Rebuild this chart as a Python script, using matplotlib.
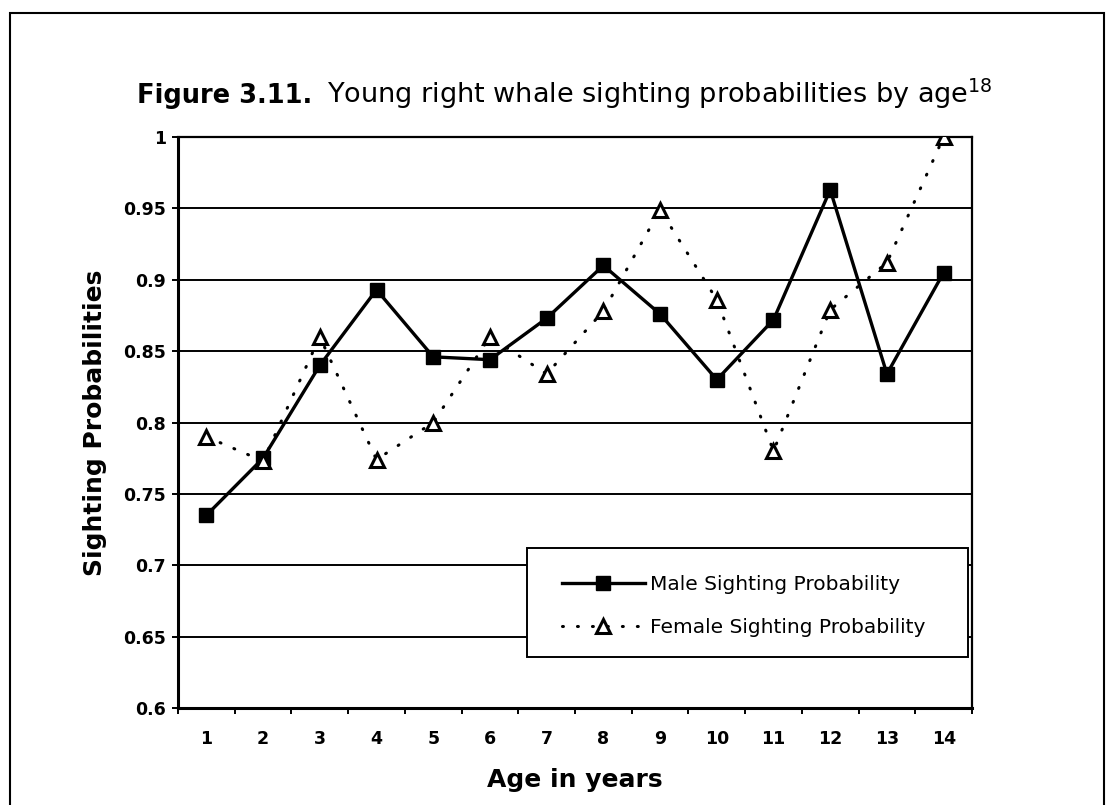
import numpy as np
import matplotlib
matplotlib.use("Agg")
import matplotlib.pyplot as plt
from matplotlib.patches import Rectangle

plt.rcParams['font.family'] = ['DejaVu Sans']

# donnees
ages = list(range(1, 15))
male = [0.735, 0.775, 0.840, 0.893, 0.846, 0.844, 0.873, 0.910, 0.876, 0.830, 0.872, 0.963, 0.834, 0.905]
female = [0.790, 0.773, 0.860, 0.774, 0.800, 0.860, 0.834, 0.878, 0.949, 0.886, 0.780, 0.879, 0.912, 1.000]
y_ticks = [0.6, 0.65, 0.7, 0.75, 0.8, 0.85, 0.9, 0.95, 1.0]
y_labels = ["0.6", "0.65", "0.7", "0.75", "0.8", "0.85", "0.9", "0.95", "1"]

W, H = 1108, 805
fig = plt.figure(figsize=(W / 100, H / 100), dpi=100)

# cadre exterieur du graphique
fig.patches.append(Rectangle((10 / W, -0.01), (1104 - 10) / W, 1 - 13 / H + 0.01,
                             transform=fig.transFigure, fill=False,
                             edgecolor='black', linewidth=1.5))

# zone de trace (pixels : x 178-972, y 137-708)
x0, x1, y0, y1 = 178, 972, 137, 708
ax = fig.add_axes([x0 / W, 1 - y1 / H, (x1 - x0) / W, (y1 - y0) / H])

def ax_xy(px, py):
    # pixels image -> coordonnees axes
    return (px - x0) / (x1 - x0), (y1 - py) / (y1 - y0)

for y in y_ticks[1:]:
    ax.axhline(y, color='black', linewidth=1.4, zorder=1)

ax.plot(ages, male, color='black', linewidth=2.4, marker='s', markersize=10,
        markerfacecolor='black', markeredgecolor='black', zorder=3,
        label="Male Sighting Probability")
ax.plot(ages, female, color='black', linewidth=2.2, linestyle=(0, (0.3, 4.6)),
        dash_capstyle='round', marker='^', markersize=10.5,
        markerfacecolor='white', markeredgecolor='black', markeredgewidth=2.2,
        zorder=4, label="Female Sighting Probability")

ax.set_xlim(0.5, 14.5)
ax.set_ylim(0.6, 1.0)
ax.set_yticks(y_ticks)
ax.set_yticklabels(y_labels)
ax.set_xticks(ages)
ax.set_xticklabels([str(a) for a in ages])
ax.set_xticks(np.arange(0.5, 15, 1), minor=True)
ax.tick_params(axis='x', which='major', length=0, pad=16, labelsize=12.5)
ax.tick_params(axis='x', which='minor', length=4.5, width=1.4, direction='out')
ax.tick_params(axis='y', length=4.5, width=1.4, direction='out', labelsize=12.5, pad=4)
for lab in ax.get_xticklabels() + ax.get_yticklabels():
    lab.set_fontweight('bold')

for s in ax.spines.values():
    s.set_linewidth(1.6)
ax.spines['left'].set_linewidth(2.2)
ax.spines['bottom'].set_linewidth(2.2)

ax.set_xlabel("Age in years", fontsize=18, fontweight='bold', labelpad=14)
ax.set_ylabel("Sighting Probabilities", fontsize=18, fontweight='bold', labelpad=12)

# legende : cadre dessine a part, contenu sans cadre
bx0, by0 = ax_xy(527, 657)
bx1, by1 = ax_xy(968, 548)
ax.add_patch(Rectangle((bx0, by0), bx1 - bx0, by1 - by0, transform=ax.transAxes,
                       facecolor='white', edgecolor='black', linewidth=1.4, zorder=5))
leg = ax.legend(loc='center left', bbox_to_anchor=ax_xy(562, 606), frameon=False,
                fontsize=14.5, handlelength=4.1, labelspacing=1.2,
                borderpad=0, borderaxespad=0, handletextpad=0.25)
leg.set_zorder(6)

# titre : partie grasse + suite normale
renderer = fig.canvas.get_renderer()
t1 = fig.text(137 / W, 1 - 103 / H, "Figure 3.11.", fontsize=18.5, fontweight='bold',
              ha='left', va='baseline')
bb = t1.get_window_extent(renderer)
fig.text((bb.x1 + 15) / W, 1 - 103 / H, "Young right whale sighting probabilities by age$^{18}$",
         fontsize=19.5, ha='left', va='baseline')

fig.savefig("out.png", dpi=100)
